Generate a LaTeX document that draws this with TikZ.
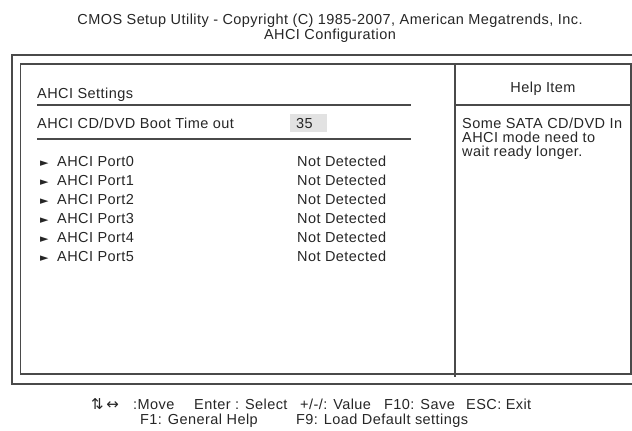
\documentclass[tikz,border=0pt]{standalone}
\usepackage{fontspec}
\setmainfont{Liberation Sans}[LetterSpace=3]
\newfontfamily\symfont{DejaVu Sans}
\definecolor{txt}{HTML}{262626}
\definecolor{frame}{HTML}{4A4A4A}
\definecolor{valbg}{HTML}{E2E2E2}
\begin{document}
\begin{tikzpicture}[x=1pt,y=-1pt,
  base/.style={inner sep=0pt,text=txt,text height=10.5pt,text depth=0pt,font=\fontsize{14.5}{14.5}\selectfont},
  lbl/.style={base,anchor=west},
  ctr/.style={base,anchor=center},
  frm/.style={draw=frame,line width=1.6pt},
  sep/.style={draw=frame,line width=1.3pt}]
\useasboundingbox (0,0) rectangle (632,431);
\clip (0,0) rectangle (632,431);
% title
\node[ctr] (t1) at (330,19) {CMOS Setup Utility - Copyright (C) 1985-2007, American Megatrends, Inc.};
\node[ctr] (t2) at (330,34) {AHCI Configuration};
% frames
\draw[frm] (12,55) rectangle (640,384);
\draw[frm] (20.5,64) rectangle (631,374);
\coordinate (dtop) at (455,64);
\coordinate (dbot) at (455,377);
\draw[frm] (dtop) -- (dbot);
\coordinate (hl) at (455,105);
\coordinate (hr) at (631,105);
\draw[sep] (hl) -- (hr);
% help column
\node[ctr] (help) at (543,87) {Help Item};
\node[lbl] (h1) at (462,123) {Some SATA CD/DVD In};
\node[lbl] (h2) at (462,137) {AHCI mode need to};
\node[lbl] (h3) at (462,151) {wait ready longer.};
% settings
\node[lbl] (set) at (37,93) {AHCI Settings};
\coordinate (l1a) at (37,105);
\coordinate (l1b) at (411,105);
\draw[sep] (l1a) -- (l1b);
\node[lbl] (boot) at (37,123) {AHCI CD/DVD Boot Time out};
\fill[valbg] (290,114) rectangle (327,132);
\node[lbl] (val) at (296,123) {35};
\coordinate (l2a) at (37,139);
\coordinate (l2b) at (411,139);
\draw[sep] (l2a) -- (l2b);
% ports
\foreach \i/\y in {0/161,1/180,2/199,3/218,4/237,5/256}{
  \node[lbl,font=\symfont\fontsize{11}{11}\selectfont] (ar\i) at (40,\y) {►};
  \node[lbl] (p\i) at (57,\y) {AHCI Port\i};
  \node[lbl] (n\i) at (297,\y) {Not Detected};
}
% footer
\node[lbl,font=\symfont\fontsize{15}{15}\selectfont] (f0) at (91,404) {⇅\,↔};
\node[lbl] (f1) at (133,404) {:Move};
\node[lbl] (f2) at (194,404) {Enter : Select};
\node[lbl] (f3) at (300,404) {+/-/: Value};
\node[lbl] (f4) at (384,404) {F10: Save};
\node[lbl] (f5) at (466,404) {ESC: Exit};
\node[lbl] (g1) at (140,419) {F1: General Help};
\node[lbl] (g2) at (296,419) {F9: Load Default settings};
\end{tikzpicture}
\end{document}
